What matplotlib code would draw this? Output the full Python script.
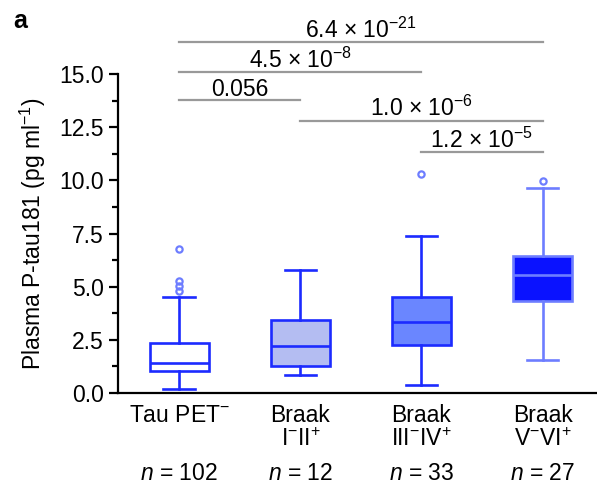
import numpy as np
import matplotlib
matplotlib.use("Agg")
import matplotlib.pyplot as plt
import matplotlib.transforms as mtransforms

plt.rcParams['font.family'] = ['Liberation Sans', 'DejaVu Sans']
plt.rcParams['mathtext.fontset'] = 'custom'
plt.rcParams['mathtext.rm'] = 'Liberation Sans'
plt.rcParams['mathtext.it'] = 'Liberation Sans:italic'
plt.rcParams['mathtext.bf'] = 'Liberation Sans:bold'

# groups
groups = ['Tau PET$^{-}$', 'Braak\nI$^{-}$II$^{+}$', 'Braak\nIII$^{-}$IV$^{+}$', 'Braak\nV$^{-}$VI$^{+}$']
n_counts = [102, 12, 33, 27]

# box stats
whislo = [0.19, 0.84, 0.38, 1.53]
q1 = [1.05, 1.28, 2.27, 4.33]
med = [1.42, 2.23, 3.33, 5.53]
q3 = [2.37, 3.44, 4.52, 6.44]
whishi = [4.52, 5.77, 7.38, 9.63]
fliers = [[4.81, 5.04, 5.28, 6.76], [], [10.32], [9.95]]

face_cols = ['white', '#b4bdf2', '#6a86ff', '#0a12ff']
edge_cols = ['#1c2bff', '#1c2bff', '#1c2bff', '#6d7dff']
flier_col = '#6d7dff'

# pairwise p-values (group i, group j, bar height, label)
comp_a = [0, 0, 0, 1, 2]
comp_b = [3, 2, 1, 3, 3]
comp_y = [16.49, 15.11, 13.78, 12.81, 11.34]
comp_txt = ['6.4 \u00d7 10$^{-21}$', '4.5 \u00d7 10$^{-8}$', '0.056',
            '1.0 \u00d7 10$^{-6}$', '1.2 \u00d7 10$^{-5}$']

FS = 16.5

fig = plt.figure(figsize=(5.97, 4.87), dpi=100)
ax = fig.add_axes([0.198, 0.193, 0.802, 0.655])

pos = np.arange(1, 5)
stats = []
for i in range(4):
    stats.append(dict(whislo=whislo[i], q1=q1[i], med=med[i], q3=q3[i],
                      whishi=whishi[i], fliers=fliers[i]))

for i in range(4):
    ec = edge_cols[i]
    ax.bxp([stats[i]], positions=[pos[i]], widths=0.49, patch_artist=True,
           showfliers=True, capwidths=0.26,
           boxprops=dict(facecolor=face_cols[i], edgecolor=ec, linewidth=1.9),
           medianprops=dict(color=ec, linewidth=1.9),
           whiskerprops=dict(color=ec, linewidth=1.9),
           capprops=dict(color=ec, linewidth=1.9),
           flierprops=dict(marker='o', markersize=4.5, markerfacecolor='none',
                           markeredgecolor=flier_col, markeredgewidth=1.6))

# significance bars
for a, b, y, t in zip(comp_a, comp_b, comp_y, comp_txt):
    ax.plot([pos[a], pos[b]], [y, y], color='#999999', lw=1.6, clip_on=False)
    ax.text((pos[a] + pos[b]) / 2, y + 0.2, t, ha='center', va='baseline',
            fontsize=FS, clip_on=False)

ax.set_xlim(0.496, 4.45)
ax.set_ylim(0, 15)
ax.set_yticks(np.arange(0, 15.1, 2.5))
ax.set_yticklabels(['%.1f' % v for v in np.arange(0, 15.1, 2.5)], fontsize=FS)
ax.set_yticks(np.arange(1.25, 15, 2.5), minor=True)
ax.tick_params(axis='y', which='major', length=6.5, width=1.6, pad=4)
ax.tick_params(axis='y', which='minor', length=4.5, width=1.6)
ax.set_xticks([])
for s in ['top', 'right']:
    ax.spines[s].set_visible(False)
ax.spines['left'].set_linewidth(1.6)
ax.spines['bottom'].set_linewidth(1.6)
ax.set_ylabel('Plasma P-tau181 (pg ml$^{-1}$)', fontsize=FS, labelpad=8)

# category labels below the axis
trans = mtransforms.blended_transform_factory(ax.transData, ax.transAxes)
for i in range(4):
    ax.text(pos[i], -0.035, groups[i], transform=trans, ha='center', va='top',
            fontsize=FS, linespacing=1.05)
    ax.text(pos[i], -0.215, '$n$ = %d' % n_counts[i], transform=trans,
            ha='center', va='top', fontsize=FS)

fig.text(0.022, 0.982, 'a', fontsize=18, fontweight='bold', va='top')

fig.savefig('out.png', dpi=100)
